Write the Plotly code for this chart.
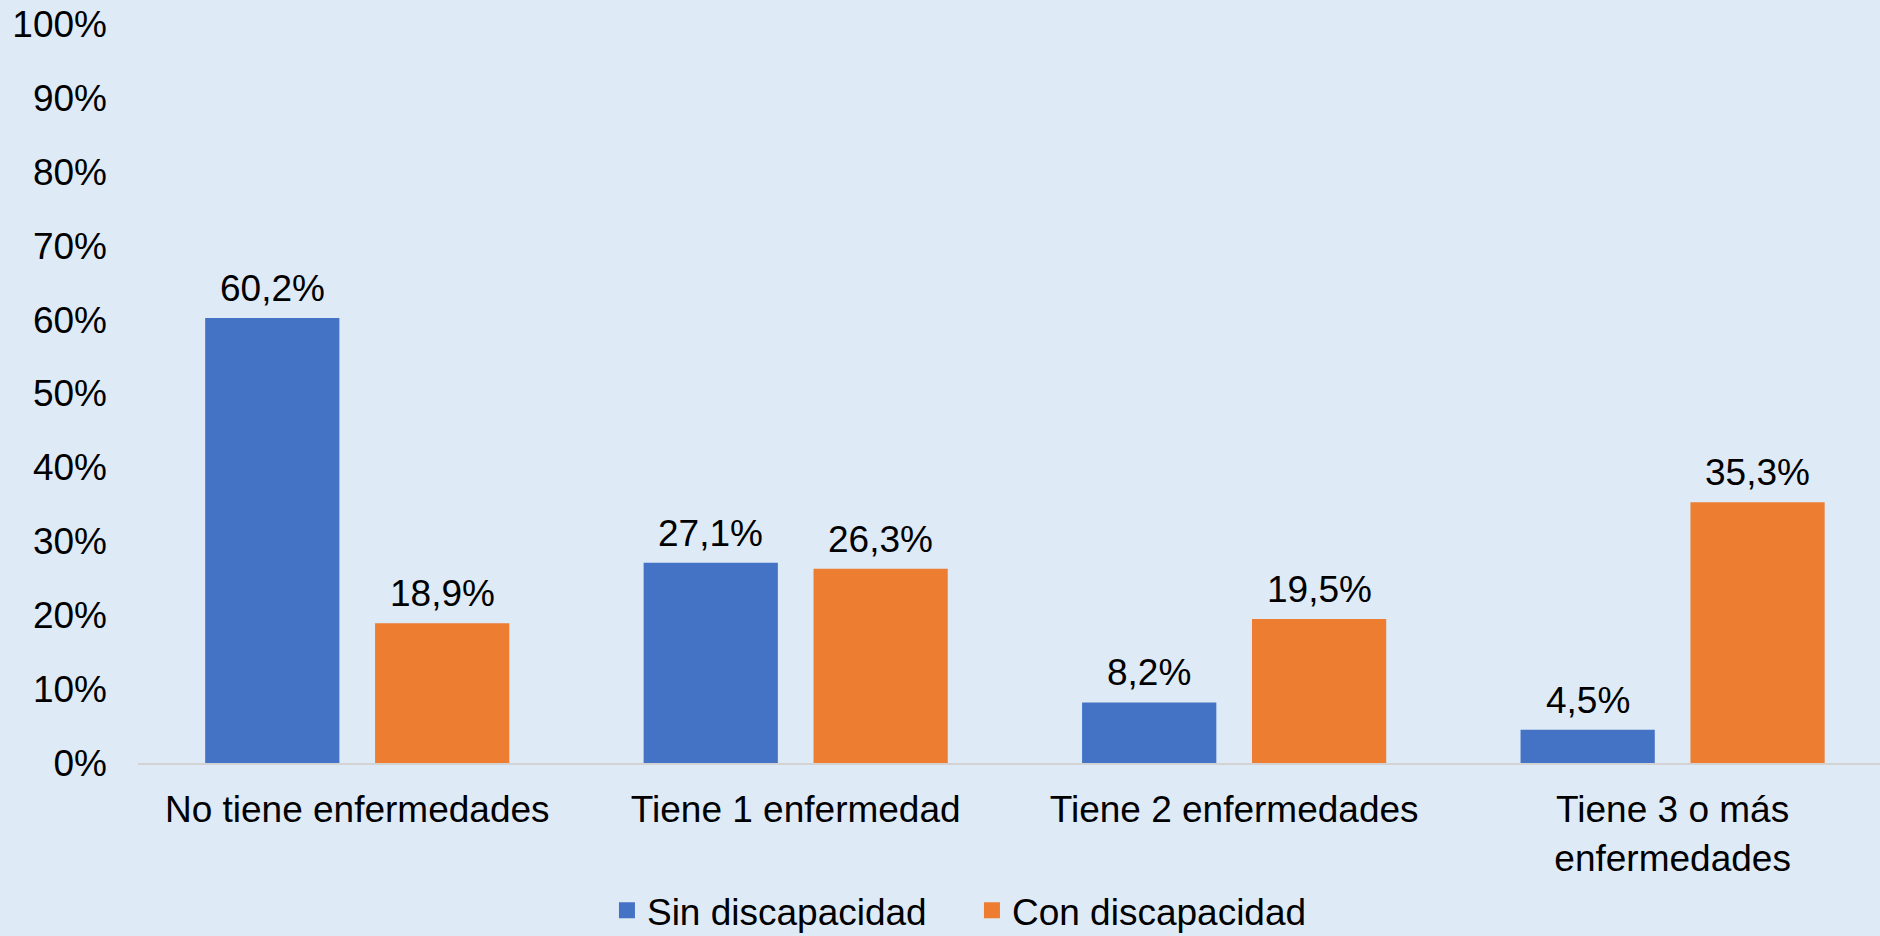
import plotly.graph_objects as go

# datos
categorias = ['No tiene enfermedades', 'Tiene 1 enfermedad', 'Tiene 2 enfermedades', 'Tiene 3 o más<br>enfermedades']
series = ['Sin discapacidad', 'Con discapacidad']
sin_discapacidad = [60.2, 27.1, 8.2, 4.5]
con_discapacidad = [18.9, 26.3, 19.5, 35.3]
y_ticks = [0, 10, 20, 30, 40, 50, 60, 70, 80, 90, 100]

azul = '#4472C4'
naranja = '#ED7D31'
fondo = '#DEEAF6'
fuente = 'Liberation Sans, Arial, sans-serif'
tam = 37


def etiqueta(v):
    return f'{v:.1f}'.replace('.', ',') + '%'


fig = go.Figure()
for nombre, vals, color in [(series[0], sin_discapacidad, azul), (series[1], con_discapacidad, naranja)]:
    fig.add_trace(go.Bar(x=categorias, y=vals, name=nombre, showlegend=False,
                         marker=dict(color=color, line=dict(width=0))))
    # entrada de leyenda con cuadrado mas grande
    fig.add_trace(go.Scatter(x=[None], y=[None], mode='markers', name=nombre,
                             marker=dict(symbol='square', size=19, color=color)))

# etiquetas de datos encima de cada barra
anots = []
for serie, dx in [(sin_discapacidad, -85), (con_discapacidad, 85)]:
    for c, v in zip(categorias, serie):
        anots.append(dict(x=c, y=v, xref='x', yref='y', text=etiqueta(v),
                          showarrow=False, xshift=dx, yanchor='bottom', yshift=7,
                          font=dict(size=tam, color='black', family=fuente)))

fig.update_layout(
    width=1880, height=936,
    barmode='group', bargap=0.225, bargroupgap=0.21,
    paper_bgcolor=fondo, plot_bgcolor=fondo,
    font=dict(family=fuente, size=tam, color='black'),
    margin=dict(l=138, r=0, t=24, b=173),
    annotations=anots,
    xaxis=dict(showline=True, linecolor='#D3D3D3', linewidth=2, ticks='',
               range=[-0.5, 3.473],
               showgrid=False, ticklabelstandoff=13, tickfont=dict(size=tam)),
    yaxis=dict(range=[0, 100], tickvals=y_ticks, ticktext=[f'{t}%' for t in y_ticks],
               showgrid=False, zeroline=False, showline=False, ticks='',
               ticklabelstandoff=30, tickfont=dict(size=tam)),
    legend=dict(orientation='h', xref='container', yref='container', x=0.517, y=0.027,
                xanchor='center', yanchor='middle', font=dict(size=tam),
                bgcolor='rgba(0,0,0,0)', itemwidth=30, tracegroupgap=0,
                entrywidth=320, entrywidthmode='pixels'),
    showlegend=True,
)

fig.write_html('out.html', post_script="document.body.style.margin='0';",
               config={'displayModeBar': False})
